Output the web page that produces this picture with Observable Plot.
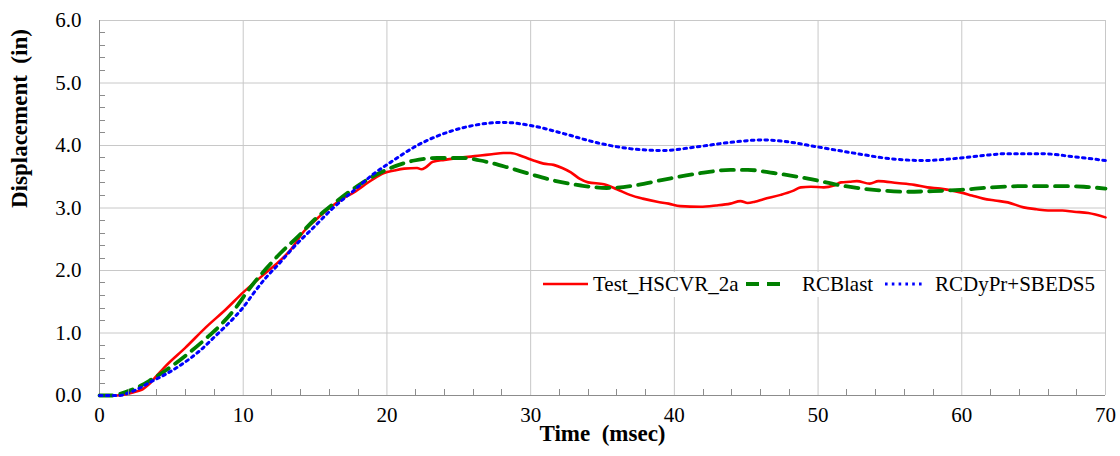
<!DOCTYPE html>
<html>
<head>
<meta charset="utf-8">
<script src="https://cdn.jsdelivr.net/npm/d3@7"></script>
<script src="https://cdn.jsdelivr.net/npm/@observablehq/plot@0.6"></script>
</head>
<body style="margin:0;background:#fff">
<div id="chart" style="padding-top:1px"></div>
<script>
// ---- Data ----
const xTicks = [0, 10, 20, 30, 40, 50, 60, 70];
const yTicks = [0, 1, 2, 3, 4, 5, 6];
const xLabel = "Time  (msec)";
const yLabel = "Displacement  (in)";
const seriesNames = ["Test_HSCVR_2a", "RCBlast", "RCDyPr+SBEDS5"];

const testT = [0,1,1.4,2,2.5,3,3.4,3.8,4.6,6,7.4,8.8,10,11.4,12.8,13.3,14.2,15,16,17,17.7,18.9,19.8,20.5,21.2,22.1,22.4,22.7,23.2,24,25.3,26.5,27.3,28.1,28.6,29.5,30.2,30.9,31.6,32.2,32.8,33.4,34,35.1,36,36.9,37.8,38.8,39.6,40.4,41.8,42.9,43.9,44.6,45.1,45.6,46.2,47.4,48.2,48.8,49.5,50.4,51.1,51.6,52.2,52.7,53.6,54.2,55.5,56.7,57.6,58.5,59.9,60.7,61.5,62.3,63.2,64.3,65.2,66,67,67.8,68.8,70];
const testD = [0,0,0.005,0.03,0.06,0.1,0.17,0.27,0.47,0.77,1.09,1.38,1.65,1.93,2.21,2.33,2.62,2.8,3.0,3.16,3.25,3.44,3.56,3.6,3.63,3.64,3.62,3.65,3.74,3.77,3.81,3.84,3.86,3.88,3.88,3.82,3.76,3.71,3.69,3.64,3.57,3.47,3.41,3.38,3.3,3.21,3.15,3.1,3.07,3.03,3.02,3.04,3.07,3.11,3.08,3.1,3.14,3.21,3.27,3.33,3.34,3.33,3.36,3.41,3.42,3.43,3.39,3.43,3.4,3.37,3.33,3.31,3.25,3.2,3.15,3.12,3.09,3.01,2.98,2.96,2.96,2.94,2.92,2.85];

const rcbT = [0,1,1.5,2.1,2.8,3.5,4.6,6,7.4,8.6,9.5,10.4,11.6,12.6,13.75,14.9,16.3,17.5,18.9,20.25,21.9,23.5,25.3,26.5,28.4,30,31.6,33.5,35.3,37.2,39.2,41.6,43.9,45.1,46.9,49.3,51.6,53.9,56.2,58,59.9,62,64.3,66.7,68.5,70];
const rcbD = [0,0,0.03,0.08,0.15,0.24,0.4,0.64,0.91,1.17,1.41,1.7,2.03,2.28,2.53,2.8,3.07,3.28,3.49,3.64,3.76,3.8,3.8,3.76,3.65,3.54,3.44,3.36,3.32,3.36,3.45,3.55,3.61,3.61,3.56,3.47,3.36,3.29,3.26,3.27,3.29,3.33,3.35,3.35,3.34,3.31];

const dyT = [0,1.4,2,2.8,3.5,4.6,5.8,7,8.1,9.3,10,10.7,11.6,12.5,13.5,14.9,16.3,17.7,19.1,20.25,22.1,24.2,26.5,28.1,30,32.3,34.7,36.9,39.2,41.6,43.9,46.2,47.5,49.9,52.7,55,57.3,59.9,61.5,63.2,65.5,67.8,70];
const dyD = [0,0,0.04,0.12,0.21,0.34,0.51,0.72,0.96,1.23,1.41,1.63,1.89,2.11,2.37,2.69,3.01,3.28,3.55,3.73,4.0,4.21,4.34,4.37,4.32,4.19,4.04,3.95,3.92,3.98,4.05,4.09,4.07,3.98,3.87,3.79,3.76,3.8,3.84,3.87,3.87,3.82,3.76];

const yMinor = d3.range(0, 30).map(i => i * 0.2).filter(v => Math.abs(v - Math.round(v)) > 1e-6);
const xMinor = d3.range(0, 36).map(i => i * 2).filter(v => v % 10 !== 0);

const toRows = (T, D) => T.map((t, i) => ({t, d: D[i]}));
const test = toRows(testT, testD);
const rcb = toRows(rcbT, rcbD);
const dy = toRows(dyT, dyD);

const colors = ["#ff0000", "#008000", "#0000ff"];
const gridColor = "#c8c8c8";
const axisColor = "#8c8c8c";
const serifFace = "Liberation Serif";
const dotDash = "2.6 4.2";

const chart = Plot.plot({
  width: 1120,
  height: 455,
  marginLeft: 99,
  marginRight: 15,
  marginTop: 19,
  marginBottom: 61,
  x: {domain: [0, 70]},
  y: {domain: [0, 6]},
  marks: [
    Plot.gridX(xTicks, {stroke: gridColor, strokeOpacity: 1, strokeWidth: 1}),
    Plot.gridY(yTicks, {stroke: gridColor, strokeOpacity: 1, strokeWidth: 1}),
    Plot.ruleX([0], {stroke: axisColor, strokeWidth: 1}),
    Plot.ruleY([0], {stroke: axisColor, strokeWidth: 1}),
    Plot.axisX(xTicks, {tickSize: 0, tickPadding: 12, label: null, fontSize: 21, fontFamily: serifFace, fill: "#000"}),
    Plot.axisY(yTicks, {tickSize: 0, tickPadding: 18, tickFormat: d3.format(".1f"), label: null, fontSize: 21, fontFamily: serifFace, fill: "#000"}),
    Plot.line(test, {x: "t", y: "d", stroke: colors[0], strokeWidth: 2.6, curve: "monotone-x"}),
    Plot.line(rcb, {x: "t", y: "d", stroke: colors[1], strokeWidth: 3.8, strokeDasharray: "13 8", curve: "monotone-x"}),
    Plot.line(dy, {x: "t", y: "d", stroke: colors[2], strokeWidth: 3, strokeDasharray: dotDash, curve: "monotone-x"}),
    Plot.text([xLabel], {frameAnchor: "bottom", dy: 45, fontWeight: "bold", fontSize: 23, fontFamily: serifFace, fill: "#000"}),
    Plot.text([yLabel], {frameAnchor: "left", dx: -80, rotate: -90, fontWeight: "bold", fontSize: 23, fontFamily: serifFace, fill: "#000"})
  ]
});

document.getElementById("chart").appendChild(chart);

// Minor ticks (inward), positioned with the chart's own scales
const sx = chart.scale("x"), sy = chart.scale("y");
const svg = d3.select(chart);
const g = svg.append("g").attr("stroke", axisColor).attr("stroke-width", 1);
g.selectAll(".ym").data(yMinor).join("line")
  .attr("x1", sx.apply(0)).attr("x2", sx.apply(0) + 6)
  .attr("y1", d => Math.round(sy.apply(d)) + 0.5).attr("y2", d => Math.round(sy.apply(d)) + 0.5);
g.selectAll(".xm").data(xMinor).join("line")
  .attr("y1", sy.apply(0)).attr("y2", sy.apply(0) - 6)
  .attr("x1", d => Math.round(sx.apply(d)) + 0.5).attr("x2", d => Math.round(sx.apply(d)) + 0.5);

// Legend inside plot area
const lg = svg.append("g").attr("font-size", 21).attr("font-family", serifFace).attr("text-anchor", "start");
lg.append("rect").attr("x", 536).attr("y", 271).attr("width", 562).attr("height", 25).attr("fill", "#fff");
const items = [
  {name: seriesNames[0], x1: 543, x2: 588, tx: 593, color: colors[0], w: 2.6, dash: null},
  {name: seriesNames[1], x1: 746, x2: 788, tx: 802, color: colors[1], w: 3.8, dash: "13 8"},
  {name: seriesNames[2], x1: 885, x2: 923, tx: 935, color: colors[2], w: 3, dash: dotDash}
];
const ly = 283;
items.forEach(it => {
  const ln = lg.append("line").attr("x1", it.x1).attr("x2", it.x2).attr("y1", ly).attr("y2", ly)
    .attr("stroke", it.color).attr("stroke-width", it.w);
  if (it.dash) ln.attr("stroke-dasharray", it.dash);
  lg.append("text").attr("x", it.tx).attr("y", ly).attr("dy", "0.35em").attr("fill", "#000")
    .attr("font-family", serifFace).text(it.name);
});
</script>
</body>
</html>
